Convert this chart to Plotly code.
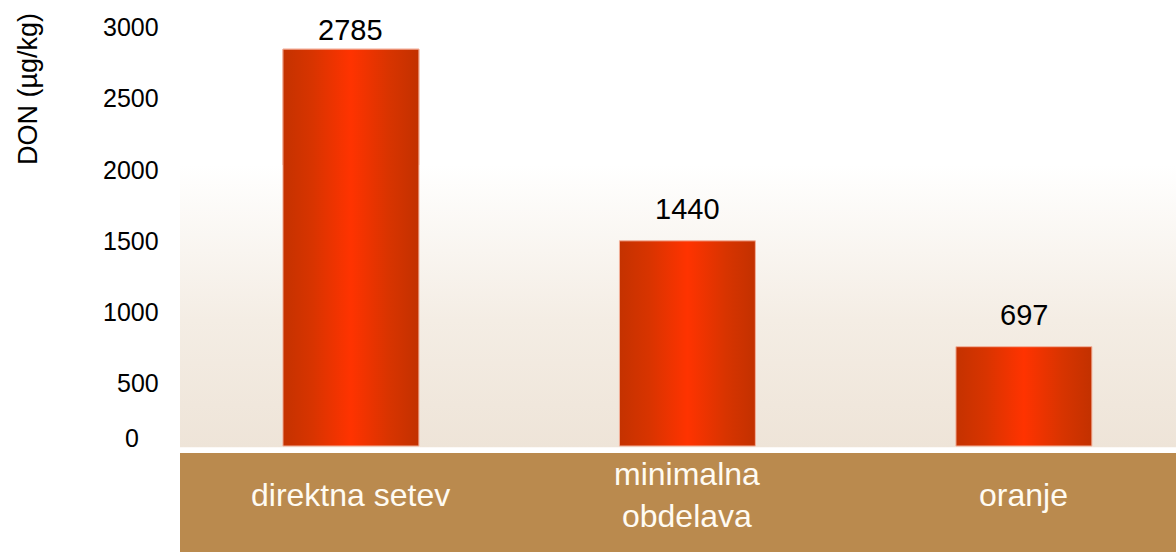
import plotly.graph_objects as go

# ---- data ----
CATEGORIES = ["direktna setev", "minimalna<br>obdelava", "oranje"]
DON_VALUES = [2785, 1440, 697]
Y_TICKS = [0, 500, 1000, 1500, 2000, 2500, 3000]
Y_TITLE = "DON (µg/kg)"

# ---- styling / layout ----
FONT = "Liberation Sans, Arial, Helvetica, sans-serif"
X_RANGE = [-0.508, 2.452]
Y_RANGE = [-49, 3060]
BAR_W = 0.404
BG_TOP = 1972      # where the beige background gradient fades to white
BG_BOTTOM = -9
BAR_SCALE = [[0, "#C43200"], [0.22, "#D83400"], [0.5, "#FF3300"],
             [0.78, "#D83400"], [1, "#C23100"]]
LABEL_SHIFT = [19, 32, 32]

xs = list(range(len(CATEGORIES)))
fig = go.Figure()

# background gradient panel
fig.add_trace(go.Scatter(
    x=[X_RANGE[0], X_RANGE[1], X_RANGE[1], X_RANGE[0], X_RANGE[0]],
    y=[BG_BOTTOM, BG_BOTTOM, BG_TOP, BG_TOP, BG_BOTTOM],
    mode="lines", line=dict(width=0), fill="toself",
    fillgradient=dict(type="vertical",
                      colorscale=[[0, "#EEE4D8"], [0.45, "#F4EDE4"], [1, "#FFFFFF"]]),
    hoverinfo="skip", showlegend=False))

# bars
fig.add_trace(go.Bar(
    x=xs, y=DON_VALUES, width=BAR_W,
    marker=dict(color="#E83400", line=dict(color="#F2B09A", width=1)),
    hoverinfo="skip", showlegend=False))

# cylindrical gradient shading on each bar
for i, v in zip(xs, DON_VALUES):
    x0, x1 = i - BAR_W / 2, i + BAR_W / 2
    fig.add_trace(go.Scatter(
        x=[x0, x1, x1, x0, x0], y=[0, 0, v, v, 0],
        mode="lines", line=dict(color="#F2B09A", width=1), fill="toself",
        fillgradient=dict(type="horizontal", colorscale=BAR_SCALE),
        hoverinfo="skip", showlegend=False))

annotations = []
# value labels
for i, v, s in zip(xs, DON_VALUES, LABEL_SHIFT):
    annotations.append(dict(x=i, y=v, xref="x", yref="y", text=str(v),
                            showarrow=False, yshift=s, yanchor="middle",
                            font=dict(family=FONT, size=29, color="#000000")))
# y tick labels
for t in Y_TICKS:
    if t == 0:
        annotations.append(dict(x=0, y=t, xref="paper", yref="y", text=str(t),
                                showarrow=False, xanchor="center", xshift=-48,
                                yshift=8, yanchor="middle",
                                font=dict(family=FONT, size=25, color="#000000")))
    else:
        annotations.append(dict(x=0, y=t, xref="paper", yref="y", text=str(t),
                                showarrow=False, xanchor="right", xshift=-19,
                                yshift=-8.5, yanchor="middle",
                                font=dict(family=FONT, size=25, color="#000000")))
# y title
annotations.append(dict(x=-0.1526, y=0.8217, xref="paper", yref="paper",
                        text=Y_TITLE, textangle=-90, showarrow=False,
                        xanchor="center", yanchor="middle",
                        font=dict(family=FONT, size=27, color="#000000")))
# category labels in brown band
for i, c in zip(xs, CATEGORIES):
    annotations.append(dict(x=i, y=-0.095, xref="x", yref="paper", text=c,
                            showarrow=False, xanchor="center", yanchor="middle",
                            font=dict(family=FONT, size=32, color="#FFFBF2")))

fig.update_layout(
    width=1176, height=552,
    margin=dict(l=180, r=0, t=10, b=99, pad=0),
    paper_bgcolor="#FFFFFF", plot_bgcolor="rgba(0,0,0,0)",
    bargap=0.6,
    xaxis=dict(range=X_RANGE, showgrid=False, zeroline=False, showline=False,
               showticklabels=False, ticks="", fixedrange=True),
    yaxis=dict(range=Y_RANGE, showgrid=False, zeroline=False, showline=False,
               showticklabels=False, ticks="", fixedrange=True),
    shapes=[dict(type="rect", xref="paper", yref="paper", x0=0, x1=1,
                 y0=-0.3, y1=0, fillcolor="#BA8A4E", line=dict(width=0),
                 layer="below")],
    annotations=annotations,
    showlegend=False,
)

fig.write_html("out.html", config={"displayModeBar": False},
               post_script="document.body.style.margin='0';document.body.style.overflow='hidden';")
